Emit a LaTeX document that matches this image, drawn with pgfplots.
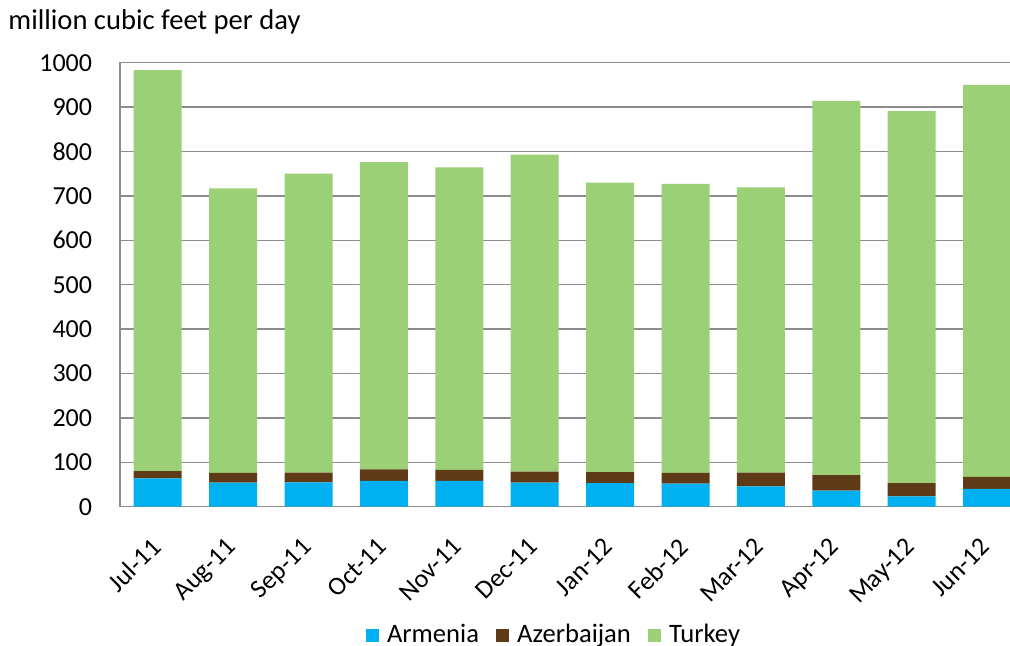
\documentclass[border=0pt]{standalone}
\usepackage{pgfplots}
\pgfplotsset{compat=1.18}
\usepackage{fontspec}
\setmainfont{Carlito}
\definecolor{carm}{HTML}{00B0F0}
\definecolor{caze}{HTML}{5E3A17}
\definecolor{ctur}{HTML}{9BD077}
\definecolor{cgrid}{HTML}{8C8C8C}
\begin{document}
\fontsize{14.3}{17}\selectfont
\begin{tikzpicture}
\begin{axis}[
  at={(0pt,0pt)}, anchor=south west,
  scale only axis,
  width=452.4pt, height=222pt,
  ybar stacked, bar width=24pt,
  xmin=-0.5, xmax=11.5,
  ymin=0, ymax=1000,
  ytick={0,100,...,1000},
  xtick={0,...,11},
  xticklabels={Jul-11,Aug-11,Sep-11,Oct-11,Nov-11,Dec-11,Jan-12,Feb-12,Mar-12,Apr-12,May-12,Jun-12},
  x tick label style={font=\fontsize{13}{15}\selectfont, rotate=45, anchor=north east, inner sep=0pt, xshift=-13.2pt, yshift=-7.5pt},
  y tick label style={font=\fontsize{13}{15}\selectfont, xshift=-9pt},
  /pgf/number format/assume math mode=true,
  /pgf/number format/1000 sep={},
  major tick length=0pt,
  ymajorgrids, grid style={cgrid, line width=0.75pt},
  axis line style={cgrid, line width=0.75pt},
  legend style={draw=none, at={(0.4807,-0.29)}, anchor=center, legend columns=-1,
    font=\fontsize{13.3}{16}\selectfont,
    /tikz/every even column/.append style={column sep=6.5pt},
    /tikz/every odd column/.append style={column sep=2pt}, inner sep=0pt},
  legend image code/.code={\fill[#1] (0pt,-3.3pt) rectangle (6.6pt,3.3pt);},
  legend cell align=left,
]
\addplot[fill=carm, draw=none] coordinates {(0,64) (1,54) (2,55) (3,58) (4,58) (5,54) (6,53) (7,52) (8,46) (9,36) (10,23) (11,40)};
\addplot[fill=caze, draw=none] coordinates {(0,16) (1,22) (2,22) (3,26) (4,25) (5,25) (6,25) (7,24) (8,31) (9,35) (10,30) (11,27)};
\addplot[fill=ctur, draw=none] coordinates {(0,903) (1,641) (2,673) (3,692) (4,681) (5,714) (6,652) (7,651) (8,642) (9,843) (10,838) (11,883)};
\legend{Armenia, Azerbaijan, Turkey}
\end{axis}
\node[anchor=west, inner sep=0pt] at (-56pt,242.35pt) {million cubic feet per day};
\pgfresetboundingbox
\path (-60pt,-69.65pt) rectangle (445pt,253.35pt);
\end{tikzpicture}
\end{document}
